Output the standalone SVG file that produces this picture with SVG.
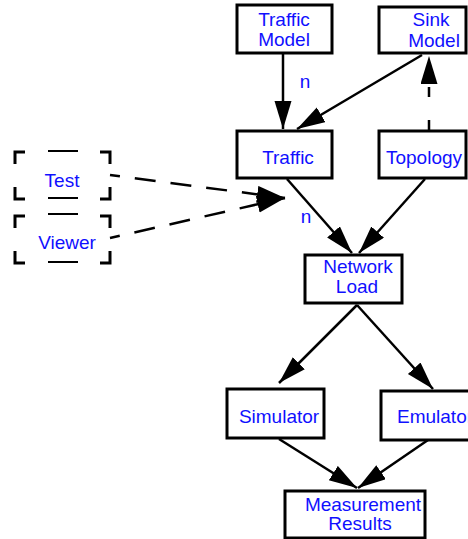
<svg xmlns="http://www.w3.org/2000/svg" width="468" height="539" viewBox="0 0 468 539">
  <style>
    .box { fill: #ffffff; stroke: #000000; stroke-width: 3; }
    .lbl { font-family: "Liberation Sans", Arial, Helvetica, sans-serif; font-size: 19px; fill: #1010ff; text-anchor: middle; }
    .st { text-anchor: start; }
    .edge { fill: none; stroke: #000000; stroke-width: 2.5; marker-end: url(#ah); }
    .dash { stroke-dasharray: 21 15; stroke-dashoffset: 11; }
    .dash2 { stroke-dasharray: 11 23 10 40; }
    .br { fill: none; stroke: #000000; stroke-width: 3; }
    .dm { fill: none; stroke: #000000; stroke-width: 1.8; }
  </style>
  <defs>
    <marker id="ah" markerWidth="30" markerHeight="20" refX="28" refY="8.5" orient="auto" markerUnits="userSpaceOnUse">
      <path d="M0,0 L28,8.5 L0,17 z" fill="#000000"/>
    </marker>
  </defs>
  <rect width="468" height="539" fill="#ffffff"/>

  <g id="connectors">
    <path class="edge" d="M283,53 L283,129"/>
    <path class="edge" d="M422,55 L297,129"/>
    <path class="edge dash2" d="M429,131 L429,56"/>
    <path class="edge dash" d="M110,175 L285,198"/>
    <path class="edge dash" d="M110,238 L285,198"/>
    <path class="edge" d="M287,179 L352,253"/>
    <path class="edge" d="M425,179 L359,253"/>
    <path class="edge" d="M357,305 L279,383"/>
    <path class="edge" d="M357,305 L433,389"/>
    <path class="edge" d="M279,439 L357,488"/>
    <path class="edge" d="M428,440 L358,488"/>
    <text class="lbl" x="305" y="88">n</text>
    <text class="lbl" x="306" y="223">n</text>
  </g>

  <g id="traffic-model">
    <rect class="box" x="237" y="5" width="95" height="48"/>
    <text class="lbl" x="284" y="26">Traffic</text>
    <text class="lbl" x="284" y="46">Model</text>
  </g>

  <g id="sink-model">
    <rect class="box" x="379" y="7" width="87" height="46"/>
    <text class="lbl" x="431" y="26">Sink</text>
    <text class="lbl" x="434" y="47">Model</text>
  </g>

  <g id="traffic">
    <rect class="box" x="237" y="131" width="95" height="47"/>
    <text class="lbl" x="288" y="164">Traffic</text>
  </g>

  <g id="topology">
    <rect class="box" x="379" y="131" width="87" height="47"/>
    <text class="lbl" x="424" y="164">Topology</text>
  </g>

  <g id="test">
    <path class="br" d="M15,164 V152 H25 M100,152 H110 V164 M110,187 V199 H100 M25,199 H15 V187"/>
    <path class="dm" d="M48,151 H78 M48,198 H78"/>
    <text class="lbl" x="62" y="187">Test</text>
  </g>

  <g id="viewer">
    <path class="br" d="M15,228 V216 H25 M100,216 H110 V228 M110,251 V263 H100 M25,263 H15 V251"/>
    <path class="dm" d="M48,214 H78 M48,262 H78"/>
    <text class="lbl" x="67" y="249">Viewer</text>
  </g>

  <g id="network-load">
    <rect class="box" x="305" y="255" width="97" height="48"/>
    <text class="lbl" x="358" y="273">Network</text>
    <text class="lbl" x="357" y="293">Load</text>
  </g>

  <g id="simulator">
    <rect class="box" x="227" y="389" width="97" height="49"/>
    <text class="lbl" x="279" y="423">Simulator</text>
  </g>

  <g id="emulator">
    <rect class="box" x="381" y="391" width="100" height="49"/>
    <text class="lbl st" x="397" y="423">Emulator</text>
  </g>

  <g id="measurement-results">
    <rect class="box" x="285" y="491" width="140" height="47"/>
    <text class="lbl" x="363" y="511">Measurement</text>
    <text class="lbl" x="360" y="530">Results</text>
  </g>
</svg>
